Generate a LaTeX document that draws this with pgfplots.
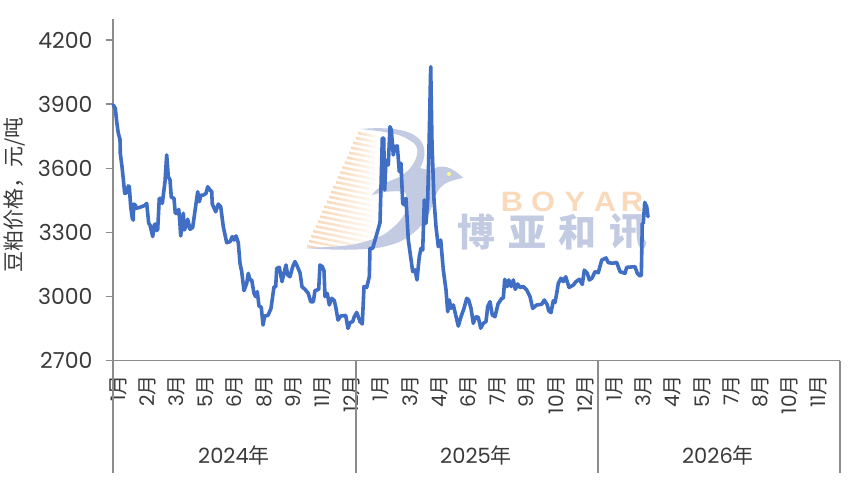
\documentclass[border=0pt]{standalone}
\usepackage{fontspec}
\usepackage{pgfplots}
\pgfplotsset{compat=1.18}
\setmainfont{Poppins}
\newfontfamily\cjk{Noto Sans CJK SC}
\newfontfamily\latinb{Liberation Sans}
\definecolor{axisgray}{HTML}{8C8C8C}
\definecolor{txt}{HTML}{3A3A3A}
\definecolor{linecol}{HTML}{3F6EC4}
\definecolor{wmblue}{HTML}{C2CBE1}
\definecolor{wmpeach}{HTML}{F9D9BA}
\newcommand\yue{{\cjk 月}}
\newcommand\px[1]{\fontsize{#1}{#1}\selectfont}
\begin{document}
\begin{tikzpicture}[x=1pt,y=1pt]
\path[use as bounding box] (0,0) rectangle (849,-483);
% watermark, behind the axis
\begin{scope}[y=-1pt]
\begin{scope}
\clip (300,120) rectangle (400,247.5);
\foreach \k in {0,...,23} {
  \pgfmathsetmacro\lx{307+\k*51/23}
  \pgfmathsetmacro\ly{246-\k*113/23}
  \pgfmathsetmacro\rx{378}
  \pgfmathsetmacro\ry{\ly+(\rx-\lx)*0.2}
  \shade[left color=wmpeach,right color=white,shading angle=90]
    (\lx,\ly-1.3) -- (\rx,\ry-1.3) -- (\rx,\ry+1.3) -- (\lx,\ly+1.3) -- cycle;
}
\end{scope}
\fill[wmblue] (305,248)
  .. controls (325,247) and (345,247) .. (360,243)
  .. controls (375,239) and (385,235) .. (390,230)
  .. controls (398,224) and (403,217) .. (405,213)
  .. controls (408,206) and (408,198) .. (405,192)
  .. controls (395,190) and (382,192) .. (372,195)
  .. controls (378,187) and (385,183) .. (392,180)
  .. controls (402,177) and (414,168) .. (417,155)
  .. controls (419,147) and (415,143) .. (409,140)
  .. controls (400,133) and (380,131) .. (360,129)
  .. controls (385,127) and (410,128) .. (420,140)
  .. controls (426,147) and (426,158) .. (420,168)
  .. controls (426,170) and (431,170) .. (435,168)
  .. controls (442,165) and (452,166) .. (463,178)
  .. controls (452,180) and (444,183) .. (440,188)
  .. controls (436,193) and (435,198) .. (433,203)
  .. controls (431,210) and (428,217) .. (423,223)
  .. controls (417,231) and (410,236) .. (403,240)
  .. controls (396,244) and (390,245) .. (383,247)
  .. controls (360,251) and (330,250) .. (305,248) -- cycle;
\fill[yellow!45] (449,174) circle (2);
\begin{scope}[wmblue,font={\cjk\bfseries\px{38}}]
\node at (476,232) {博};
\node at (527,232) {亚};
\node at (577,232) {和};
\node at (628,232) {讯};
\end{scope}
\begin{scope}[wmpeach,font={\latinb\bfseries\px{28}}]
\node[xscale=1.1] at (512,202) {B};
\node[xscale=1.1] at (543,202) {O};
\node[xscale=1.1] at (575,202) {Y};
\node[xscale=1.1] at (605,202) {A};
\node[xscale=1.1] at (632,202) {R};
\end{scope}
\end{scope}
\begin{axis}[
  at={(113pt,-19pt)}, anchor=north west,
  scale only axis, width=727pt, height=341.5pt,
  xmin=113, xmax=840, ymin=2700, ymax=4298,
  axis x line*=bottom, axis y line*=left,
  axis line style={draw=axisgray,line width=1.4pt,-},
  clip=false,
  tick align=outside,
  ytick={2700,3000,3300,3600,3900,4200},
  ytick style={draw=axisgray,line width=1.2pt},
  major tick length=7pt,
  xtick={118,147.2,176.4,205.6,234.8,264,293.2,322.4,351.6,380.8,410,439.2,468.4,497.6,526.8,556,585.2,614.4,643.6,672.8,702,731.2,760.4,789.6,818.8},
  xticklabels={1\yue,2\yue,3\yue,5\yue,6\yue,8\yue,9\yue,11\yue,12\yue,1\yue,3\yue,4\yue,6\yue,7\yue,9\yue,10\yue,12\yue,1\yue,3\yue,4\yue,5\yue,7\yue,8\yue,10\yue,11\yue},
  xtick style={draw=none},
  xticklabel style={rotate=90,anchor=east,font=\px{20},text=txt,xshift=-4pt},
  yticklabel style={font=\px{22},text=txt,xshift=-10pt},
  /pgf/number format/assume math mode=true,
  /pgf/number format/1000 sep={},
  ylabel={\cjk 豆粕价格，元/吨},
  every axis y label/.style={at={(axis description cs:-0.136,0.485)},rotate=90,anchor=center,font=\px{21},text=txt},
]
\addplot[linecol,line width=3.6pt,line join=round,line cap=round,no markers] coordinates {
(113.3,3896)(115.3,3880)(116.7,3818)(118.3,3763)(120,3735)(120.3,3669)(122,3607)(123.3,3549)(124.7,3482)(126.7,3485)
(128.3,3517)(129.3,3513)(130.7,3420)(132.3,3365)(133.3,3357)(133.6,3432)(135.3,3428)(136,3412)(140,3417)(145,3426)
(146.7,3435)(148.7,3342)(150,3334)(152.7,3280)(154.3,3334)(155.7,3339)(156.7,3308)(157.7,3314)(159.3,3459)(161,3459)
(162.3,3435)(165,3537)(166.7,3662)(168.3,3560)(170,3545)(171.3,3464)(174,3459)(175.3,3389)(177.3,3389)(178.7,3407)
(179.7,3357)(180.7,3283)(183.3,3389)(184.3,3311)(186,3326)(187.7,3361)(190,3314)(192.7,3323)(197.7,3490)(199.3,3443)
(201,3474)(203.3,3474)(206,3482)(207.7,3513)(210,3498)(211.7,3490)(212.3,3432)(215.7,3396)(218.3,3432)(220.7,3420)
(223.3,3326)(226.7,3251)(230,3256)(232.3,3280)(234,3264)(236,3283)(238.3,3251)(240,3155)(241.7,3116)(244,3027)
(246.7,3061)(248.3,3108)(250,3077)(251.7,3077)(254,3014)(255.7,2999)(257.3,3022)(259,2955)(261.3,2949)(263,2866)
(264.7,2908)(268,2911)(271,2944)(274,3045)(275.7,3045)(276.7,3131)(279.3,3136)(282,3069)(284,3108)(286,3147)
(287.7,3100)(290,3092)(292.7,3139)(295,3163)(296.7,3147)(300,3111)(302,3045)(305,3033)(308.3,3014)(310.7,2975)
(313.3,2975)(315,3027)(318.7,3033)(320,3147)(322.3,3139)(324,3120)(325,2999)(327.3,3014)(329.3,2960)(331.7,2991)
(334.3,2980)(336,2944)(338,2889)(340.7,2908)(345.7,2911)(348,2850)(350,2877)(352.7,2882)(354,2902)(356.7,2925)
(358.3,2905)(360,2882)(362.3,2871)(364,3046)(366.7,3042)(369.3,3092)(370,3225)(372.7,3225)(380,3345)(381,3513)
(382.3,3740)(383.7,3740)(384.7,3498)(386,3638)(388.3,3615)(390,3794)(391.3,3779)(393.3,3662)(395,3701)(397.3,3704)
(399.3,3584)(401,3623)(402.7,3436)(404.3,3428)(406,3459)(408.3,3264)(412.7,3116)(415,3124)(417,3077)(419.3,3186)
(421,3225)(422.7,3217)(424.3,3451)(426,3342)(427.7,3451)(429.3,3763)(430.7,4075)(432,3716)(434,3451)(436,3326)
(438.3,3233)(440.7,3264)(443.3,3124)(446,3030)(447.7,2928)(449.3,2983)(451,2944)(453.3,2960)(458.3,2861)(461,2905)
(464,2944)(466.7,2991)(468.7,2983)(471,2944)(473.3,2874)(475.7,2905)(478.3,2902)(480.7,2851)(483.3,2874)(486,2882)
(487.7,2952)(490,2975)(492.3,2913)(495,2905)(498,2964)(501.7,2991)(503.3,2991)(504.7,3080)(507.3,3046)(508.7,3077)
(511.3,3046)(513.3,3077)(515.3,3033)(517.7,3058)(520,3042)(523.3,3046)(526.7,3030)(530,2999)(532.7,2944)(536.7,2960)
(541.7,2963)(544.3,2983)(547.3,2960)(548.7,2933)(551,2924)(553.3,2980)(555,2971)(556.7,3014)(558.3,3061)(561,3085)
(563.3,3069)(565.7,3092)(569,3042)(573.3,3053)(576,3069)(579.3,3080)(582.3,3056)(584.3,3123)(587.3,3108)(589.3,3077)
(592,3085)(595,3116)(598.3,3111)(601.7,3170)(606,3180)(608.3,3158)(612.7,3155)(616.7,3159)(620,3116)(625,3108)
(626.7,3136)(635,3139)(637.3,3108)(640,3095)(641.3,3100)(642.3,3342)(643.3,3342)(644.7,3440)(646.7,3420)(648,3373)
};
\end{axis}
\draw[axisgray,line width=1.4pt] (113,-360.5) -- (113,-473);
\draw[axisgray,line width=1.4pt] (356,-360.5) -- (356,-473);
\draw[axisgray,line width=1.4pt] (598,-360.5) -- (598,-473);
\draw[axisgray,line width=1.4pt] (840,-360.5) -- (840,-473);
\begin{scope}[txt,font=\px{21}]
\node at (234,-455) {2024{\cjk 年}};
\node at (476,-455) {2025{\cjk 年}};
\node at (718,-455) {2026{\cjk 年}};
\end{scope}
\end{tikzpicture}
\end{document}
